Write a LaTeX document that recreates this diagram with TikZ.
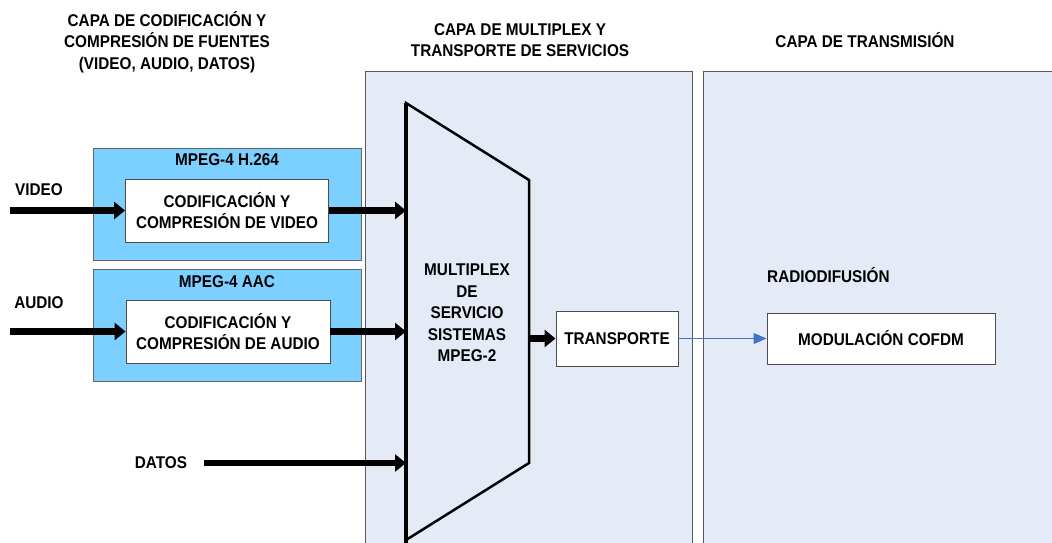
\documentclass[tikz,border=0pt]{standalone}
\usepackage{fontspec}
\setmainfont[FakeStretch=0.9]{Liberation Sans}
\usetikzlibrary{positioning,calc,arrows.meta}
\definecolor{panelfill}{RGB}{229,235,246}
\definecolor{codfill}{RGB}{124,208,255}
\definecolor{linkblue}{RGB}{68,114,196}

\begin{document}
\begin{tikzpicture}[
            x=1pt,y=-1pt,
            every node/.style={font=\fontsize{17}{21.5}\selectfont\bfseries,align=center,inner sep=0pt},
            layer box/.style={draw=black!65,fill=panelfill,line width=0.9pt},
            codec box/.style={draw=black!60,fill=codfill,line width=0.9pt,minimum width=268pt,minimum height=112pt},
            plain box/.style={draw=black!70,fill=white,line width=0.9pt},
            fat arrow/.style={line width=6.5pt,-{Triangle[length=11pt,width=17pt]}},
            thin arrow/.style={draw=linkblue,line width=1pt,-{Triangle[length=13pt,width=11pt]}},
        ]
            \useasboundingbox (0,0) rectangle (1052,542);
            \clip (0,0) rectangle (1052,542);

            \draw[layer box] (365,71) rectangle (692,560);
            \draw[layer box] (703,71) rectangle (1060,560);

            \node (capacod) at (167,42) {CAPA DE CODIFICACIÓN Y\\COMPRESIÓN DE FUENTES\\(VIDEO, AUDIO, DATOS)};
            \node (capamux) at (520,40) {CAPA DE MULTIPLEX Y\\TRANSPORTE DE SERVICIOS};
            \node (capatx) at (865,40) {CAPA DE TRANSMISIÓN};

            \node[codec box] (h264) at (227,204) {};
            \node[codec box] (aac) at (227,325.5) {};
            \node[below=6pt of h264.north] {MPEG-4 H.264};
            \node[below=6pt of aac.north] {MPEG-4 AAC};

            \node[plain box,minimum width=203pt,minimum height=63pt] (vidcod) at (227,210.5) {CODIFICACIÓN Y\\COMPRESIÓN DE VIDEO};
            \node[plain box,minimum width=204pt,minimum height=63pt] (audcod) at (228,331.5) {CODIFICACIÓN Y\\COMPRESIÓN DE AUDIO};

            \node (video) at (39,190) {VIDEO};
            \node (audio) at (39,303) {AUDIO};
            \node (datos) at (161,463) {DATOS};

            \coordinate (mux tl) at (406,103);
            \coordinate (mux tr) at (529,180);
            \coordinate (mux br) at (529,463);
            \coordinate (mux bl) at (406,540);
            \draw[line width=2.5pt,line join=miter] (mux tl) -- (mux tr) -- (mux br) -- (mux bl) -- cycle;
            \draw[line width=4pt] (mux tl) -- (406,548);
            \node (mux) at (467,313) {MULTIPLEX\\DE\\SERVICIO\\SISTEMAS\\MPEG-2};

            \node[plain box,minimum width=122pt,minimum height=55pt] (transp) at (617,338.5) {TRANSPORTE};
            \node[plain box,minimum width=228pt,minimum height=51pt] (cofdm) at (881,338.5) {MODULACIÓN COFDM};
            \node[anchor=west] (radio) at (767,275) {RADIODIFUSIÓN};

            \coordinate (vid in) at (10,210.5);
            \coordinate (aud in) at (10,331.5);
            \coordinate (mux vid) at (406,210.5);
            \coordinate (mux aud) at (406,331.5);
            \coordinate (mux dat) at (406,463);
            \coordinate (mux out) at (529,338.5);

            \draw[fat arrow] (vid in) -- (vidcod);
            \draw[fat arrow] (aud in) -- (audcod);
            \draw[fat arrow] (vidcod) -- (mux vid);
            \draw[fat arrow] (audcod) -- (mux aud);
            \draw[fat arrow] ($(datos.east)+(17,0)$) -- (mux dat);
            \draw[fat arrow] (mux out) -- (transp);
            \draw[thin arrow] (transp) -- (cofdm);
        \end{tikzpicture}
\end{document}
